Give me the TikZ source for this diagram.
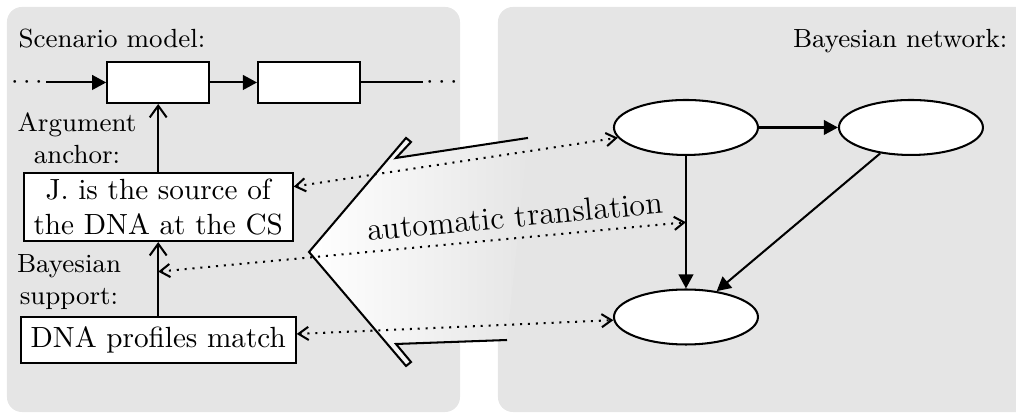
\documentclass[tikz,border=0pt]{standalone}
\usetikzlibrary{arrows.meta,shapes.geometric}

\tikzset{
  panel/.style={fill=black!10, draw=none, rounded corners=0.18cm},
  scenbox/.style={draw, fill=white, line width=0.7pt, minimum width=1.228cm, minimum height=0.494cm},
  argbox/.style={draw, fill=white, line width=0.7pt, align=center, inner sep=1pt},
  bnnode/.style={ellipse, draw, fill=white, line width=0.7pt, minimum width=1.734cm, minimum height=0.662cm},
  lbl/.style={font=\small, align=center},
  flow/.style={line width=0.7pt, -{Triangle[length=4.8pt,width=5pt]}},
  support/.style={line width=0.7pt, -{Straight Barb[length=4pt,width=5.8pt]}},
  transl/.style={line width=0.7pt, dotted, {Straight Barb[length=3.4pt,width=4.5pt]}-{Straight Barb[length=3.4pt,width=4.5pt]}},
}

\begin{document}
\begin{tikzpicture}
\useasboundingbox (0,0) rectangle (12.234,5.045);

% Panels
\fill[panel] (0.084,0.084) rectangle (5.539,4.961);
\fill[panel] (5.996,0.084) rectangle (12.6,4.961);
\node[lbl, inner sep=0pt, anchor=base west] (scentitle) at (0.217,4.479) {Scenario model:};
\node[lbl, inner sep=0pt, anchor=base east] (bntitle) at (12.137,4.479) {Bayesian network:};

% Scenario chain
\node[scenbox] (s1) at (1.905,4.052) {};
\node[scenbox] (s2) at (3.721,4.052) {};
\node[font=\small, inner sep=1pt] (ldots) at (0.325,4.052) {$\cdots$};
\node[font=\small, inner sep=1pt] (rdots) at (5.322,4.052) {$\cdots$};
\draw[flow] (ldots) -- (s1);
\draw[flow] (s1) -- (s2);
\draw[line width=0.7pt] (s2) -- (rdots);

% Big arrow (translation)
\shade[left color=white, right color=black!10] (6.358,3.384) -- (4.768,3.143) -- (4.949,3.335) -- (4.889,3.384)
  -- (3.721,2.011) -- (4.889,0.638) -- (4.949,0.686) -- (4.768,0.903) -- (6.105,0.951) -- cycle;
\draw[line width=0.7pt, line join=miter] (6.358,3.384) -- (4.768,3.143) -- (4.949,3.335) -- (4.889,3.384)
  -- (3.721,2.011) -- (4.889,0.638) -- (4.949,0.686) -- (4.768,0.903) -- (6.105,0.951);

% Argument anchor and support
\node[argbox, minimum width=3.239cm, minimum height=0.819cm] (anchor) at (1.905,2.552) {J. is the source of\\the DNA at the CS};
\node[argbox, minimum width=3.311cm, minimum height=0.554cm] (match) at (1.905,0.951) {DNA profiles match};
\node[lbl] (anchorlbl) at (0.927,3.384) {Argument\\anchor:};
\node[lbl] (supportlbl) at (0.831,1.650) {Bayesian\\support:};
\draw[support] (anchor) -- (s1);
\draw[support] (match) -- coordinate[pos=0.6] (supmid) (anchor);

% Bayesian network
\node[bnnode] (n1) at (8.260,3.510) {};
\node[bnnode] (n2) at (10.969,3.510) {};
\node[bnnode] (n3) at (8.260,1.228) {};
\draw[flow] (n1) -- (n2);
\draw[flow] (n1) -- coordinate (bnmid) (n3);
\draw[flow] (n2) -- (n3);

% Translation links
\draw[transl] (anchor) -- (n1);
\draw[transl] (match) -- (n3);
\draw[transl] (supmid) -- node[pos=0.68, above, sloped, font=\fontsize{11}{13}\selectfont] (autolbl) {automatic translation} (bnmid);

\end{tikzpicture}
\end{document}
